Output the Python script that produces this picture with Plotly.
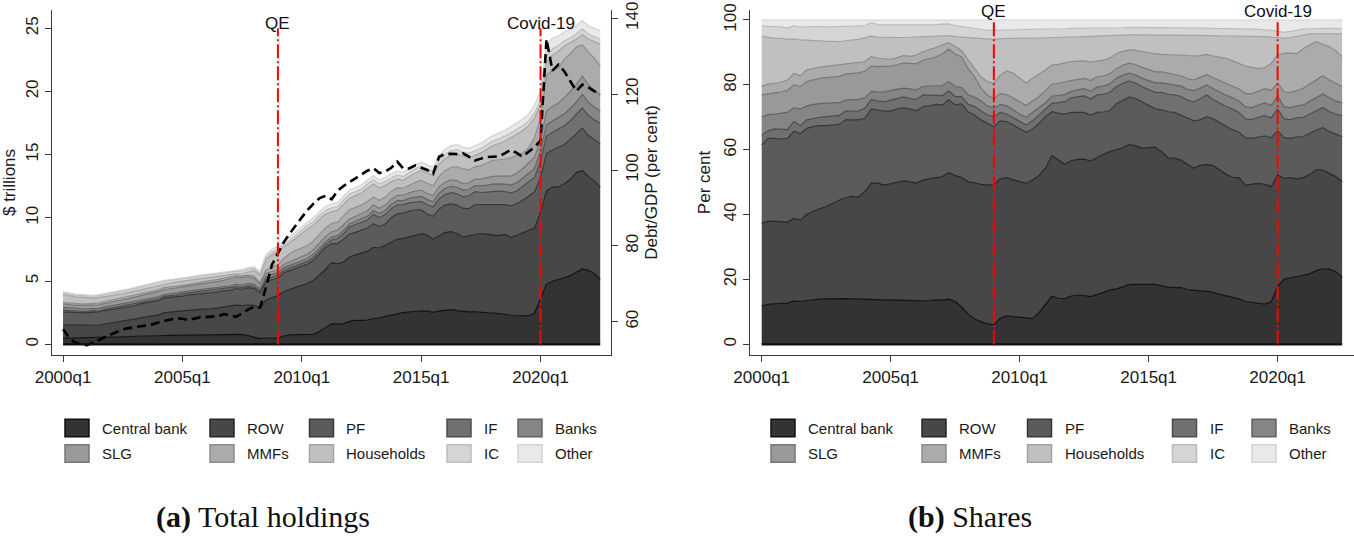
import numpy as np
import plotly.graph_objects as go

# ---------------- data ----------------
quarters = [f"{y}q{k}" for y in range(2000, 2023) for k in range(1, 5)][:91]
tick_labels = ["2000q1", "2005q1", "2010q1", "2015q1", "2020q1"]
sectors = ["Central bank", "ROW", "PF", "IF", "Banks", "SLG", "MMFs", "Households", "IC", "Other"]
event_labels = ["QE", "Covid-19"]
event_quarters = ["2009q1", "2020q1"]

# total marketable Treasury holdings, $ trillions
total_holdings = [4.15, 4.05, 3.98, 3.95, 3.92, 3.88, 3.93, 4.00, 4.10, 4.20, 4.28, 4.38, 4.50, 4.62, 4.75, 4.85,
                  4.95, 5.05, 5.12, 5.20, 5.30, 5.35, 5.40, 5.47, 5.55, 5.60, 5.65, 5.72, 5.80, 5.85, 5.90, 6.05,
                  6.15, 5.75, 7.10, 7.50, 7.80, 8.20, 8.50, 8.90, 9.30, 9.70, 10.0, 10.5, 10.9, 11.1, 11.2, 11.7,
                  12.2, 12.4, 12.6, 13.0, 13.35, 13.0, 13.2, 13.5, 13.7, 13.6, 13.9, 14.2, 14.4, 14.2, 14.0, 14.9,
                  15.4, 15.7, 15.8, 15.6, 15.5, 15.7, 15.9, 16.2, 16.5, 16.7, 16.9, 17.2, 17.5, 17.8, 18.2, 18.9,
                  20.0, 23.7, 24.2, 24.4, 24.7, 24.9, 25.2, 25.6, 25.2, 25.0, 24.8]

# Debt/GDP, per cent (right axis)
debt_gdp = [58.0, 55.8, 54.5, 54.0, 53.8, 54.5, 55.3, 56.0, 56.8, 57.5, 58.0, 58.3, 58.5, 58.8, 59.0, 59.3,
            59.8, 60.3, 60.6, 60.9, 60.8, 60.4, 60.9, 61.2, 61.2, 61.3, 61.5, 62.0, 61.6, 61.3, 62.2, 63.2,
            63.9, 63.7, 69.0, 75.0, 78.0, 81.0, 83.3, 85.5, 87.5, 89.5, 91.2, 92.6, 93.2, 92.3, 94.5, 95.8,
            96.9, 97.8, 98.8, 99.8, 100.5, 99.2, 99.6, 100.6, 102.2, 100.4, 100.4, 101.2, 100.6, 100.0, 99.0, 103.5,
            104.2, 104.3, 104.2, 104.4, 103.5, 102.5, 103.0, 103.4, 103.5, 103.6, 104.4, 105.3, 104.5, 103.5, 104.8, 106.0,
            107.8, 134.5, 126.2, 127.8, 126.0, 123.5, 120.8, 122.5, 121.8, 120.8, 119.8]

# upper edge of each sector in the share stack, per cent
top_cb = [11.8, 12.3, 12.5, 12.5, 12.7, 13.4, 13.2, 13.5, 13.8, 13.9, 14.0, 14.1, 14.2, 14.1, 14.0, 13.9,
          13.8, 13.8, 13.8, 13.7, 13.7, 13.6, 13.5, 13.5, 13.5, 13.4, 13.5, 13.7, 13.6, 13.9, 13.2, 11.5,
          9.3, 7.8, 7.0, 6.3, 6.0, 8.0, 8.8, 8.6, 8.3, 8.0, 7.9, 9.8, 12.4, 14.8, 14.2, 14.0,
          14.9, 15.2, 15.0, 14.7, 15.3, 16.0, 16.7, 17.1, 17.7, 18.4, 18.5, 18.5, 18.3, 18.5, 18.0, 17.6,
          17.5, 17.5, 16.9, 16.6, 16.5, 16.3, 16.0, 15.4, 15.0, 14.5, 14.0, 13.2, 12.9, 12.7, 12.4, 13.1,
          17.8, 20.1, 20.6, 20.9, 21.3, 21.8, 22.7, 23.3, 23.2, 22.4, 20.7]
top_row = [37.3, 38.0, 37.9, 37.8, 37.7, 38.8, 38.3, 40.1, 41.0, 41.8, 42.5, 43.5, 44.4, 45.2, 45.6, 45.4,
           47.1, 49.7, 49.7, 49.1, 49.6, 50.1, 50.4, 50.1, 49.7, 50.6, 51.0, 51.3, 51.7, 52.9, 52.0, 51.4,
           50.1, 49.8, 49.3, 49.1, 49.3, 51.0, 51.4, 50.7, 50.1, 49.6, 50.7, 52.0, 54.3, 58.2, 56.8, 55.5,
           56.6, 57.0, 57.1, 56.5, 57.5, 58.6, 59.4, 59.9, 60.6, 61.6, 61.2, 60.4, 60.6, 60.8, 59.4, 57.5,
           57.4, 56.8, 55.5, 54.3, 55.2, 55.4, 55.1, 53.8, 52.4, 51.5, 51.4, 49.1, 49.3, 49.6, 49.3, 48.6,
           52.2, 51.2, 51.4, 51.0, 51.4, 52.4, 53.9, 53.7, 52.7, 51.7, 50.1]
top_pf = [61.5, 63.5, 63.5, 63.3, 63.5, 65.7, 65.0, 66.6, 67.1, 67.4, 67.4, 67.6, 67.8, 69.2, 69.1, 69.2,
          69.7, 72.6, 72.2, 71.9, 71.9, 72.6, 72.9, 72.6, 72.0, 73.3, 73.5, 74.0, 73.8, 75.4, 73.8, 74.1,
          71.7, 70.7, 69.2, 68.1, 67.1, 68.9, 68.7, 67.6, 66.6, 65.4, 66.4, 68.1, 70.2, 71.7, 71.2, 71.0,
          71.5, 71.4, 71.5, 70.7, 71.5, 71.7, 72.1, 74.2, 75.3, 76.3, 75.8, 74.8, 73.8, 72.6, 72.3, 71.7,
          71.5, 70.7, 69.7, 68.9, 69.2, 70.2, 69.5, 68.3, 67.1, 66.1, 65.4, 63.7, 63.5, 64.0, 64.3, 63.7,
          65.8, 63.7, 63.5, 64.0, 64.0, 65.1, 66.1, 66.8, 65.6, 64.8, 64.0]
top_if = [64.5, 65.8, 66.4, 66.3, 66.2, 68.7, 67.4, 69.2, 69.7, 70.0, 70.2, 70.4, 70.5, 71.9, 71.9, 72.0,
          72.8, 75.5, 75.0, 74.8, 75.3, 75.8, 76.3, 75.8, 75.5, 76.9, 76.9, 76.9, 76.7, 78.1, 76.4, 76.4,
          74.0, 73.3, 71.9, 70.7, 70.2, 71.5, 71.0, 69.9, 68.7, 67.6, 68.9, 70.6, 72.5, 74.3, 74.5, 74.8,
          76.0, 76.4, 76.6, 75.6, 76.9, 77.1, 77.7, 79.4, 80.5, 81.2, 80.5, 79.4, 78.5, 77.7, 77.7, 77.1,
          76.9, 76.4, 75.3, 74.8, 75.8, 76.9, 75.5, 74.3, 73.3, 72.5, 71.5, 69.5, 69.3, 70.0, 70.5, 69.8,
          72.5, 69.5, 69.3, 69.8, 70.0, 71.0, 72.0, 73.0, 71.8, 71.0, 70.5]
top_banks = [70.2, 70.8, 71.0, 71.2, 71.5, 73.0, 72.5, 73.5, 74.0, 74.2, 74.3, 74.4, 74.5, 75.3, 75.4, 75.5,
             76.0, 78.0, 77.8, 77.8, 78.3, 78.7, 79.0, 78.8, 78.5, 79.5, 79.6, 79.8, 79.8, 81.0, 79.5, 79.2,
             77.0, 76.2, 75.0, 73.5, 72.8, 74.0, 73.5, 72.3, 71.0, 70.0, 71.5, 72.8, 74.5, 76.5, 76.7, 77.0,
             78.0, 78.5, 78.8, 78.0, 79.3, 79.6, 80.3, 82.0, 83.0, 83.6, 83.0, 82.0, 81.2, 80.6, 80.6, 80.2,
             80.0, 79.6, 78.6, 78.2, 79.0, 80.0, 78.8, 77.7, 76.8, 76.0, 75.0, 73.2, 73.0, 73.8, 74.4, 73.6,
             76.5, 73.2, 73.0, 73.5, 73.8, 74.9, 76.0, 77.2, 76.0, 75.0, 74.5]
top_slg = [76.9, 77.3, 77.5, 77.8, 78.3, 80.0, 79.5, 81.0, 81.6, 82.0, 82.2, 82.4, 82.6, 83.3, 83.5, 83.7,
           84.2, 85.8, 85.6, 85.6, 85.8, 86.2, 86.8, 86.6, 86.5, 87.6, 88.0, 88.6, 89.5, 91.0, 89.5, 88.6,
           85.0, 82.5, 79.0, 76.8, 75.8, 77.3, 77.0, 76.0, 74.8, 73.6, 75.0, 76.4, 78.2, 80.2, 80.5, 80.8,
           81.3, 81.7, 82.0, 81.3, 82.5, 82.8, 83.4, 85.0, 86.0, 86.7, 86.2, 85.4, 84.6, 84.0, 84.0, 83.6,
           83.2, 82.8, 81.9, 81.5, 82.3, 83.2, 82.2, 81.3, 80.5, 79.7, 78.7, 77.3, 77.3, 78.0, 78.8, 78.3,
           80.5, 77.8, 77.7, 78.2, 79.0, 80.3, 81.6, 82.8, 81.5, 80.4, 79.5]
top_mmfs = [79.6, 80.2, 80.5, 80.8, 81.5, 83.5, 82.8, 84.6, 85.0, 85.5, 85.7, 85.9, 86.1, 86.5, 86.7, 86.9,
            87.2, 88.7, 88.2, 88.0, 87.9, 88.4, 89.0, 88.8, 89.2, 90.2, 90.8, 91.5, 92.3, 93.0, 91.8, 90.5,
            87.7, 85.2, 82.5, 81.0, 80.5, 83.0, 84.3, 83.6, 82.2, 80.6, 82.0, 83.2, 84.6, 86.1, 86.3, 86.8,
            87.2, 87.3, 87.4, 87.0, 87.2, 87.6, 88.3, 89.6, 90.3, 90.8, 90.6, 90.2, 90.0, 89.6, 89.4, 89.2,
            89.2, 89.2, 89.0, 88.9, 89.0, 89.4, 88.9, 88.5, 88.2, 87.4, 86.6, 85.8, 85.4, 85.0, 85.3, 86.6,
            89.2, 89.7, 89.8, 89.6, 91.3, 92.3, 93.3, 92.5, 91.8, 90.5, 88.7]
top_households = [94.9, 94.6, 94.4, 94.3, 94.0, 94.2, 93.8, 93.8, 93.6, 93.5, 93.4, 93.4, 93.3, 93.6, 93.8, 94.0,
                  94.5, 95.0, 94.7, 94.6, 94.5, 94.6, 94.6, 94.7, 94.8, 94.9, 95.0, 95.0, 95.0, 95.2, 94.9, 94.8,
                  94.7, 94.6, 94.4, 94.2, 94.0, 94.2, 94.3, 94.3, 94.3, 94.3, 94.4, 94.5, 94.5, 94.6, 94.6, 94.7,
                  94.7, 94.8, 94.9, 95.0, 95.0, 95.1, 95.2, 95.3, 95.3, 95.4, 95.4, 95.4, 95.4, 95.4, 95.4, 95.4,
                  95.3, 95.3, 95.3, 95.2, 95.2, 95.2, 95.2, 95.1, 95.1, 95.1, 95.0, 95.0, 95.0, 94.9, 94.9, 94.7,
                  94.4, 94.3, 94.6, 95.0, 95.5, 95.7, 95.7, 95.7, 95.8, 95.8, 95.7]
top_ic = [98.1, 98.0, 97.8, 97.9, 97.5, 98.2, 97.8, 97.9, 98.0, 98.0, 97.9, 97.9, 98.0, 98.1, 98.1, 98.2,
          98.3, 99.2, 98.6, 98.5, 98.5, 98.5, 98.6, 98.6, 98.6, 98.5, 98.4, 98.6, 98.7, 98.8, 98.3, 98.0,
          97.6, 97.2, 97.0, 96.8, 96.8, 96.8, 96.9, 97.0, 97.0, 97.1, 97.1, 97.2, 97.2, 97.3, 97.3, 97.3,
          97.4, 97.4, 97.4, 97.5, 97.5, 97.5, 97.6, 97.6, 97.6, 97.7, 97.7, 97.7, 97.7, 97.7, 97.6, 97.6,
          97.6, 97.5, 97.5, 97.5, 97.5, 97.5, 97.4, 97.4, 97.4, 97.3, 97.3, 97.2, 97.2, 97.1, 97.0, 96.8,
          96.5, 96.2, 96.5, 96.9, 97.2, 97.3, 97.4, 97.4, 97.4, 97.4, 97.3]
top_other = [100.0] * 91

# ---------------- derived ----------------
tops = np.array([top_cb, top_row, top_pf, top_if, top_banks, top_slg, top_mmfs,
                 top_households, top_ic, top_other], dtype=float)
shares = np.diff(np.vstack([np.zeros(len(quarters)), tops]), axis=0)
levels = shares * np.array(total_holdings) / 100.0

fills = ["#333333", "#474747", "#5b5b5b", "#707070", "#858585",
         "#999999", "#ababab", "#c0c0c0", "#d5d5d5", "#e9e9e9"]
edges = ["#111111", "#262626", "#383838", "#4c4c4c", "#636363",
         "#777777", "#8c8c8c", "#a3a3a3", "#bcbcbc", "#d2d2d2"]

W, H = 1354, 537
def fx(px): return px / W
def fy(py): return 1 - py / H

FONT = "Liberation Sans, Arial, sans-serif"
SERIF = "Liberation Serif, Times New Roman, serif"
AX = "#3a3a3a"

fig = go.Figure()

for i, s in enumerate(sectors):
    fig.add_trace(go.Scatter(x=quarters, y=levels[i], name=s, stackgroup="lev", mode="lines",
                             line=dict(color=edges[i], width=1.2), fillcolor=fills[i],
                             xaxis="x", yaxis="y", showlegend=False))
for i, s in enumerate(sectors):
    fig.add_trace(go.Scatter(x=quarters, y=shares[i], name=s, stackgroup="sh", mode="lines",
                             line=dict(color=edges[i], width=1.2), fillcolor=fills[i],
                             xaxis="x2", yaxis="y3", showlegend=False))

fig.add_trace(go.Scatter(x=quarters, y=debt_gdp, name="Debt/GDP", mode="lines",
                         line=dict(color="black", width=2.6, dash="9px,5px"),
                         xaxis="x", yaxis="y2", showlegend=False))

shapes = []
for xr, yr in (("x", "y"), ("x2", "y3")):
    shapes.append(dict(type="line", xref=xr, yref=yr, x0=0, x1=len(quarters) - 1, y0=0, y1=0,
                       line=dict(color="#111111", width=2.2), layer="above"))

annotations = []
for lab, q in zip(event_labels, event_quarters):
    xi = quarters.index(q)
    shapes.append(dict(type="line", xref="x", yref="y", x0=xi, x1=xi, y0=0, y1=25,
                       line=dict(color="#ff0000", width=2, dash="14px,3px,2px,3px"), layer="above"))
    shapes.append(dict(type="line", xref="x2", yref="y3", x0=xi, x1=xi, y0=0, y1=100,
                       line=dict(color="#ff0000", width=2, dash="14px,3px,2px,3px"), layer="above"))
    annotations.append(dict(x=xi, xref="x", y=fy(23), yref="paper", text=lab, showarrow=False,
                            xanchor="center", yanchor="middle", font=dict(family=FONT, size=17, color="#111")))
    annotations.append(dict(x=xi, xref="x2", y=fy(11), yref="paper", text=lab, showarrow=False,
                            xanchor="center", yanchor="middle", font=dict(family=FONT, size=17, color="#111")))

order = [[0, 1, 2, 3, 4], [5, 6, 7, 8, 9]]
col_left = [[65, 210, 309.5, 447, 518], [771, 922, 1027.5, 1172.5, 1252]]
row_mid = [428, 453.5]
for cols in col_left:
    for r, row in enumerate(order):
        for c, idx in enumerate(row):
            x0 = cols[c]
            shapes.append(dict(type="rect", xref="paper", yref="paper",
                               x0=fx(x0), x1=fx(x0 + 24), y0=fy(row_mid[r] - 8.8), y1=fy(row_mid[r] + 8.8),
                               fillcolor=fills[idx], line=dict(color=edges[idx], width=1.5)))
            annotations.append(dict(x=fx(x0 + 35), y=fy(row_mid[r]), xref="paper", yref="paper",
                                    text=sectors[idx], showarrow=False, xanchor="left", yanchor="middle",
                                    font=dict(family=FONT, size=15, color="#1a1a1a")))

annotations.append(dict(x=fx(262.5), y=fy(517), xref="paper", yref="paper",
                        text="<b>(a)</b> Total holdings", showarrow=False, xanchor="center", yanchor="middle",
                        font=dict(family=SERIF, size=30, color="#111")))
annotations.append(dict(x=fx(970), y=fy(517), xref="paper", yref="paper",
                        text="<b>(b)</b> Shares", showarrow=False, xanchor="center", yanchor="middle",
                        font=dict(family=SERIF, size=30, color="#111")))

tickfont = dict(family=FONT, size=17, color="#1a1a1a")
titlefont = dict(family=FONT, size=17, color="#1a1a1a")
common_x = dict(type="category", tickmode="array", tickvals=tick_labels, ticktext=tick_labels,
                showline=True, linecolor=AX, linewidth=1.3, ticks="outside", ticklen=6, tickcolor=AX,
                tickwidth=1.3, showgrid=False, zeroline=False, tickfont=tickfont, automargin=False)
common_y = dict(showline=True, linecolor=AX, linewidth=1.3, ticks="outside", ticklen=6, tickcolor=AX,
                tickwidth=1.3, showgrid=False, zeroline=False, tickfont=tickfont, tickangle=-90,
                automargin=False)

fig.update_layout(
    width=W, height=H, margin=dict(l=0, r=0, t=0, b=0, autoexpand=False),
    paper_bgcolor="white", plot_bgcolor="white", showlegend=False,
    xaxis=dict(common_x, domain=[fx(52), fx(610.6)], range=[-1.85, 91.74], anchor="y"),
    yaxis=dict(common_y, domain=[fy(355), fy(10)], range=[-0.846, 26.44],
               tickvals=[0, 5, 10, 15, 20, 25], anchor="x",
               title=dict(text="$ trillions", font=titlefont, standoff=6)),
    yaxis2=dict(common_y, overlaying="y", side="right", anchor="x", range=[51.22, 142.19],
                tickvals=[60, 80, 100, 120, 140],
                title=dict(text="Debt/GDP (per cent)", font=titlefont, standoff=2)),
    xaxis2=dict(common_x, domain=[fx(750), fx(1354)], range=[-1.814, 91.84], anchor="y3"),
    yaxis3=dict(common_y, domain=[fy(355), fy(10)], range=[-3.30, 103.08],
                tickvals=[0, 20, 40, 60, 80, 100], anchor="x2",
                title=dict(text="Per cent", font=titlefont, standoff=6)),
    shapes=shapes, annotations=annotations,
)

fig.write_html("out.html")
